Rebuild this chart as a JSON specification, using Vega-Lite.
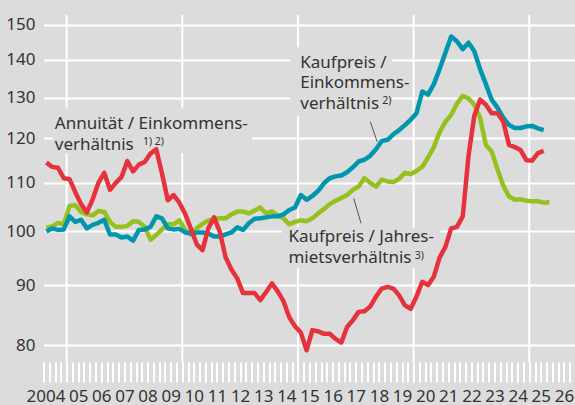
{
  "$schema": "https://vega.github.io/schema/vega-lite/v6.json",
  "width": 532,
  "height": 347,
  "autosize": {"type": "none"},
  "padding": {"left": 43.5, "top": 15, "right": 0, "bottom": 43},
  "background": "#dcdcdc",
  "config": {"view": {"stroke": null}, "font": "Noto Sans"},
  "data": {"values": [
    {"year": 2004.125, "e": 100.0, "a": 114.5, "m": 100.8},
    {"year": 2004.375, "e": 100.6, "a": 113.5, "m": 101.0},
    {"year": 2004.625, "e": 100.3, "a": 113.3, "m": 101.7},
    {"year": 2004.875, "e": 100.4, "a": 111.0, "m": 101.4},
    {"year": 2005.125, "e": 103.0, "a": 110.8, "m": 105.1},
    {"year": 2005.375, "e": 101.9, "a": 108.0, "m": 105.3},
    {"year": 2005.625, "e": 102.3, "a": 105.5, "m": 103.9},
    {"year": 2005.875, "e": 100.6, "a": 103.8, "m": 103.4},
    {"year": 2006.125, "e": 101.3, "a": 106.5, "m": 103.2},
    {"year": 2006.375, "e": 101.7, "a": 110.0, "m": 104.1},
    {"year": 2006.625, "e": 102.3, "a": 112.2, "m": 103.9},
    {"year": 2006.875, "e": 99.4, "a": 108.5, "m": 101.9},
    {"year": 2007.125, "e": 99.4, "a": 110.0, "m": 100.9},
    {"year": 2007.375, "e": 98.8, "a": 111.3, "m": 100.9},
    {"year": 2007.625, "e": 99.0, "a": 114.8, "m": 101.1},
    {"year": 2007.875, "e": 98.2, "a": 112.5, "m": 102.0},
    {"year": 2008.125, "e": 100.3, "a": 114.0, "m": 101.9},
    {"year": 2008.375, "e": 100.4, "a": 114.6, "m": 100.9},
    {"year": 2008.625, "e": 100.9, "a": 116.5, "m": 98.4},
    {"year": 2008.875, "e": 103.0, "a": 117.5, "m": 99.3},
    {"year": 2009.125, "e": 102.6, "a": 112.0, "m": 100.4},
    {"year": 2009.375, "e": 100.6, "a": 106.3, "m": 101.4},
    {"year": 2009.625, "e": 100.4, "a": 107.4, "m": 101.4},
    {"year": 2009.875, "e": 100.5, "a": 105.8, "m": 102.2},
    {"year": 2010.125, "e": 99.8, "a": 103.5, "m": 100.3},
    {"year": 2010.375, "e": 99.6, "a": 100.5, "m": 99.4},
    {"year": 2010.625, "e": 99.8, "a": 97.5, "m": 100.6},
    {"year": 2010.875, "e": 99.8, "a": 96.4, "m": 101.5},
    {"year": 2011.125, "e": 99.6, "a": 100.6, "m": 102.2},
    {"year": 2011.375, "e": 99.0, "a": 102.8, "m": 102.5},
    {"year": 2011.625, "e": 99.0, "a": 99.9, "m": 102.6},
    {"year": 2011.875, "e": 99.4, "a": 95.0, "m": 102.6},
    {"year": 2012.125, "e": 99.8, "a": 92.8, "m": 103.4},
    {"year": 2012.375, "e": 100.8, "a": 91.2, "m": 104.0},
    {"year": 2012.625, "e": 100.3, "a": 88.6, "m": 104.0},
    {"year": 2012.875, "e": 101.6, "a": 88.6, "m": 103.6},
    {"year": 2013.125, "e": 102.5, "a": 88.6, "m": 104.2},
    {"year": 2013.375, "e": 102.6, "a": 87.4, "m": 104.8},
    {"year": 2013.625, "e": 102.8, "a": 88.8, "m": 103.6},
    {"year": 2013.875, "e": 103.0, "a": 90.3, "m": 104.0},
    {"year": 2014.125, "e": 103.0, "a": 88.9, "m": 103.2},
    {"year": 2014.375, "e": 103.4, "a": 87.2, "m": 102.6},
    {"year": 2014.625, "e": 104.3, "a": 84.5, "m": 101.4},
    {"year": 2014.875, "e": 104.8, "a": 83.0, "m": 101.9},
    {"year": 2015.125, "e": 107.4, "a": 82.0, "m": 102.2},
    {"year": 2015.375, "e": 106.4, "a": 79.2, "m": 102.0},
    {"year": 2015.625, "e": 107.2, "a": 82.4, "m": 102.6},
    {"year": 2015.875, "e": 108.3, "a": 82.2, "m": 103.6},
    {"year": 2016.125, "e": 109.9, "a": 81.8, "m": 104.5},
    {"year": 2016.375, "e": 111.0, "a": 81.8, "m": 105.5},
    {"year": 2016.625, "e": 111.4, "a": 81.0, "m": 106.2},
    {"year": 2016.875, "e": 111.6, "a": 80.4, "m": 106.8},
    {"year": 2017.125, "e": 112.3, "a": 82.9, "m": 107.4},
    {"year": 2017.375, "e": 113.4, "a": 84.0, "m": 108.5},
    {"year": 2017.625, "e": 114.7, "a": 85.4, "m": 109.2},
    {"year": 2017.875, "e": 115.1, "a": 85.5, "m": 111.0},
    {"year": 2018.125, "e": 116.0, "a": 86.3, "m": 110.0},
    {"year": 2018.375, "e": 117.5, "a": 88.0, "m": 109.2},
    {"year": 2018.625, "e": 119.4, "a": 89.4, "m": 110.7},
    {"year": 2018.875, "e": 119.7, "a": 89.7, "m": 110.3},
    {"year": 2019.125, "e": 121.0, "a": 89.4, "m": 110.2},
    {"year": 2019.375, "e": 122.0, "a": 88.2, "m": 110.9},
    {"year": 2019.625, "e": 123.2, "a": 86.5, "m": 112.2},
    {"year": 2019.875, "e": 124.5, "a": 85.9, "m": 111.9},
    {"year": 2020.125, "e": 126.1, "a": 88.0, "m": 112.6},
    {"year": 2020.375, "e": 131.6, "a": 90.6, "m": 113.5},
    {"year": 2020.625, "e": 130.8, "a": 90.0, "m": 115.6},
    {"year": 2020.875, "e": 133.5, "a": 91.5, "m": 118.0},
    {"year": 2021.125, "e": 137.5, "a": 95.0, "m": 121.5},
    {"year": 2021.375, "e": 142.0, "a": 97.0, "m": 124.0},
    {"year": 2021.625, "e": 146.6, "a": 100.6, "m": 125.7},
    {"year": 2021.875, "e": 145.2, "a": 100.9, "m": 128.5},
    {"year": 2022.125, "e": 143.0, "a": 103.0, "m": 130.5},
    {"year": 2022.375, "e": 144.8, "a": 116.0, "m": 129.8},
    {"year": 2022.625, "e": 142.4, "a": 125.5, "m": 128.2},
    {"year": 2022.875, "e": 137.5, "a": 129.5, "m": 125.0},
    {"year": 2023.125, "e": 133.5, "a": 128.2, "m": 118.5},
    {"year": 2023.375, "e": 129.5, "a": 126.1, "m": 117.0},
    {"year": 2023.625, "e": 127.5, "a": 126.1, "m": 113.0},
    {"year": 2023.875, "e": 125.0, "a": 124.1, "m": 109.4},
    {"year": 2024.125, "e": 123.2, "a": 118.5, "m": 107.1},
    {"year": 2024.375, "e": 122.5, "a": 118.0, "m": 106.4},
    {"year": 2024.625, "e": 122.5, "a": 117.3, "m": 106.5},
    {"year": 2024.875, "e": 122.9, "a": 115.0, "m": 106.2},
    {"year": 2025.125, "e": 123.0, "a": 114.9, "m": 106.1},
    {"year": 2025.375, "e": 122.4, "a": 116.6, "m": 106.1},
    {"year": 2025.625, "e": 122.0, "a": 117.1, "m": 105.8},
    {"year": 2025.875, "e": null, "a": null, "m": 105.9}
  ]},
  "encoding": {
    "x": {
      "field": "year", "type": "quantitative", "title": null,
      "scale": {"domain": [2004, 2027], "nice": false, "zero": false},
      "axis": {
        "values": [2004, 2004.25, 2004.5, 2004.75, 2005, 2005.25, 2005.5, 2005.75, 2006, 2006.25, 2006.5, 2006.75, 2007, 2007.25, 2007.5, 2007.75, 2008, 2008.25, 2008.5, 2008.75, 2009, 2009.25, 2009.5, 2009.75, 2010, 2010.25, 2010.5, 2010.75, 2011, 2011.25, 2011.5, 2011.75, 2012, 2012.25, 2012.5, 2012.75, 2013, 2013.25, 2013.5, 2013.75, 2014, 2014.25, 2014.5, 2014.75, 2015, 2015.25, 2015.5, 2015.75, 2016, 2016.25, 2016.5, 2016.75, 2017, 2017.25, 2017.5, 2017.75, 2018, 2018.25, 2018.5, 2018.75, 2019, 2019.25, 2019.5, 2019.75, 2020, 2020.25, 2020.5, 2020.75, 2021, 2021.25, 2021.5, 2021.75, 2022, 2022.25, 2022.5, 2022.75, 2023, 2023.25, 2023.5, 2023.75, 2024, 2024.25, 2024.5, 2024.75, 2025, 2025.25, 2025.5, 2025.75, 2026, 2026.25, 2026.5, 2026.75, 2027],
        "domain": false, "grid": false,
        "ticks": true, "tickColor": "white", "tickWidth": 2, "tickSize": 20,
        "labelExpr": "datum.value % 1 == 0.5 ? (floor(datum.value) == 2004 ? '2004' : format(floor(datum.value) % 100, '02d')) : ''",
        "labelOverlap": false, "labelFontSize": 17, "labelColor": "#333333", "labelPadding": 6,
        "labelBaseline": "top",
        "labelOffset": {"condition": {"test": "datum.value == 2004.5", "value": -9.5}, "value": 0}
      }
    }
  },
  "layer": [
    {
      "data": {"values": [{"year": 2005}, {"year": 2010}, {"year": 2015}, {"year": 2020}, {"year": 2025}]},
      "mark": {"type": "rule", "color": "#ffffff", "strokeWidth": 2},
      "encoding": {}
    },
    {
      "data": {"values": [
        {"year": 2004.41, "year2": 2013.02, "v": 127.5, "v2": 116.6},
        {"year": 2014.67, "year2": 2019.08, "v": 143.5, "v2": 125.5},
        {"year": 2014.31, "year2": 2021.16, "v": 100.7, "v2": 93.1}
      ]},
      "mark": {"type": "rect", "color": "#dcdcdc"},
      "encoding": {
        "x2": {"field": "year2"},
        "y": {"field": "v", "type": "quantitative", "title": null,
          "scale": {"type": "log", "domain": [77.4, 152.9], "nice": false, "zero": false},
          "axis": {"values": [80, 90, 100, 110, 120, 130, 140, 150], "domain": false, "ticks": false, "labelPadding": 8.5, "labelFontSize": 17, "labelColor": "#333333", "grid": true, "gridColor": "white", "gridWidth": 2}},
        "y2": {"field": "v2"}
      }
    },
    {
      "transform": [{"fold": ["e", "a", "m"], "as": ["series", "v"]}, {"filter": "datum.series == 'm'"}],
      "mark": {"type": "line", "color": "#95c11f", "strokeWidth": 4.5, "strokeJoin": "round"},
      "encoding": {
        "y": {"field": "v", "type": "quantitative", "title": null,
          "scale": {"type": "log", "domain": [77.4, 152.9], "nice": false, "zero": false},
          "axis": {"values": [80, 90, 100, 110, 120, 130, 140, 150], "domain": false, "ticks": false, "labelPadding": 8.5, "labelFontSize": 17, "labelColor": "#333333", "grid": true, "gridColor": "white", "gridWidth": 2}}
      }
    },
    {
      "transform": [{"fold": ["e", "a", "m"], "as": ["series", "v"]}, {"filter": "datum.series == 'e'"}],
      "mark": {"type": "line", "color": "#0096ad", "strokeWidth": 4.5, "strokeJoin": "round"},
      "encoding": {
        "y": {"field": "v", "type": "quantitative", "title": null,
          "scale": {"type": "log", "domain": [77.4, 152.9], "nice": false, "zero": false},
          "axis": {"values": [80, 90, 100, 110, 120, 130, 140, 150], "domain": false, "ticks": false, "labelPadding": 8.5, "labelFontSize": 17, "labelColor": "#333333", "grid": true, "gridColor": "white", "gridWidth": 2}}
      }
    },
    {
      "transform": [{"fold": ["e", "a", "m"], "as": ["series", "v"]}, {"filter": "datum.series == 'a'"}],
      "mark": {"type": "line", "color": "#e6323c", "strokeWidth": 4.5, "strokeJoin": "round"},
      "encoding": {
        "y": {"field": "v", "type": "quantitative", "title": null,
          "scale": {"type": "log", "domain": [77.4, 152.9], "nice": false, "zero": false},
          "axis": {"values": [80, 90, 100, 110, 120, 130, 140, 150], "domain": false, "ticks": false, "labelPadding": 8.5, "labelFontSize": 17, "labelColor": "#333333", "grid": true, "gridColor": "white", "gridWidth": 2}}
      }
    },
    {
      "data": {"values": [
        {"year": 2018.13, "year2": 2018.43, "v": 124.0, "v2": 119.2},
        {"year": 2017.41, "year2": 2017.73, "v": 106.7, "v2": 101.6}
      ]},
      "mark": {"type": "rule", "color": "#555555", "strokeWidth": 1},
      "encoding": {
        "x2": {"field": "year2"},
        "y": {"field": "v", "type": "quantitative", "title": null,
          "scale": {"type": "log", "domain": [77.4, 152.9], "nice": false, "zero": false},
          "axis": {"values": [80, 90, 100, 110, 120, 130, 140, 150], "domain": false, "ticks": false, "labelPadding": 8.5, "labelFontSize": 17, "labelColor": "#333333", "grid": true, "gridColor": "white", "gridWidth": 2}},
        "y2": {"field": "v2"}
      }
    },
    {
      "data": {"values": [
        {"year": 2004.49, "v": 122.2, "label": "Annuität / Einkommens-\nverhältnis"},
        {"year": 2015.10, "v": 137.8, "label": "Kaufpreis /\nEinkommens-\nverhältnis"},
        {"year": 2014.59, "v": 97.9, "label": "Kaufpreis / Jahres-\nmietsverhältnis"}
      ]},
      "mark": {"type": "text", "align": "left", "baseline": "alphabetic", "fontSize": 17, "lineHeight": 20.5, "lineBreak": "\n", "color": "#333333"},
      "encoding": {
        "y": {"field": "v", "type": "quantitative", "title": null,
          "scale": {"type": "log", "domain": [77.4, 152.9], "nice": false, "zero": false},
          "axis": {"values": [80, 90, 100, 110, 120, 130, 140, 150], "domain": false, "ticks": false, "labelPadding": 8.5, "labelFontSize": 17, "labelColor": "#333333", "grid": true, "gridColor": "white", "gridWidth": 2}},
        "text": {"field": "label"}
      }
    },
    {
      "data": {"values": [
        {"year": 2008.30, "v": 118.4, "label": "1) 2)"},
        {"year": 2018.65, "v": 128.3, "label": "2)"},
        {"year": 2020.05, "v": 94.8, "label": "3)"}
      ]},
      "mark": {"type": "text", "align": "left", "baseline": "alphabetic", "fontSize": 10.5, "color": "#333333"},
      "encoding": {
        "y": {"field": "v", "type": "quantitative", "title": null,
          "scale": {"type": "log", "domain": [77.4, 152.9], "nice": false, "zero": false},
          "axis": {"values": [80, 90, 100, 110, 120, 130, 140, 150], "domain": false, "ticks": false, "labelPadding": 8.5, "labelFontSize": 17, "labelColor": "#333333", "grid": true, "gridColor": "white", "gridWidth": 2}},
        "text": {"field": "label"}
      }
    }
  ]
}
